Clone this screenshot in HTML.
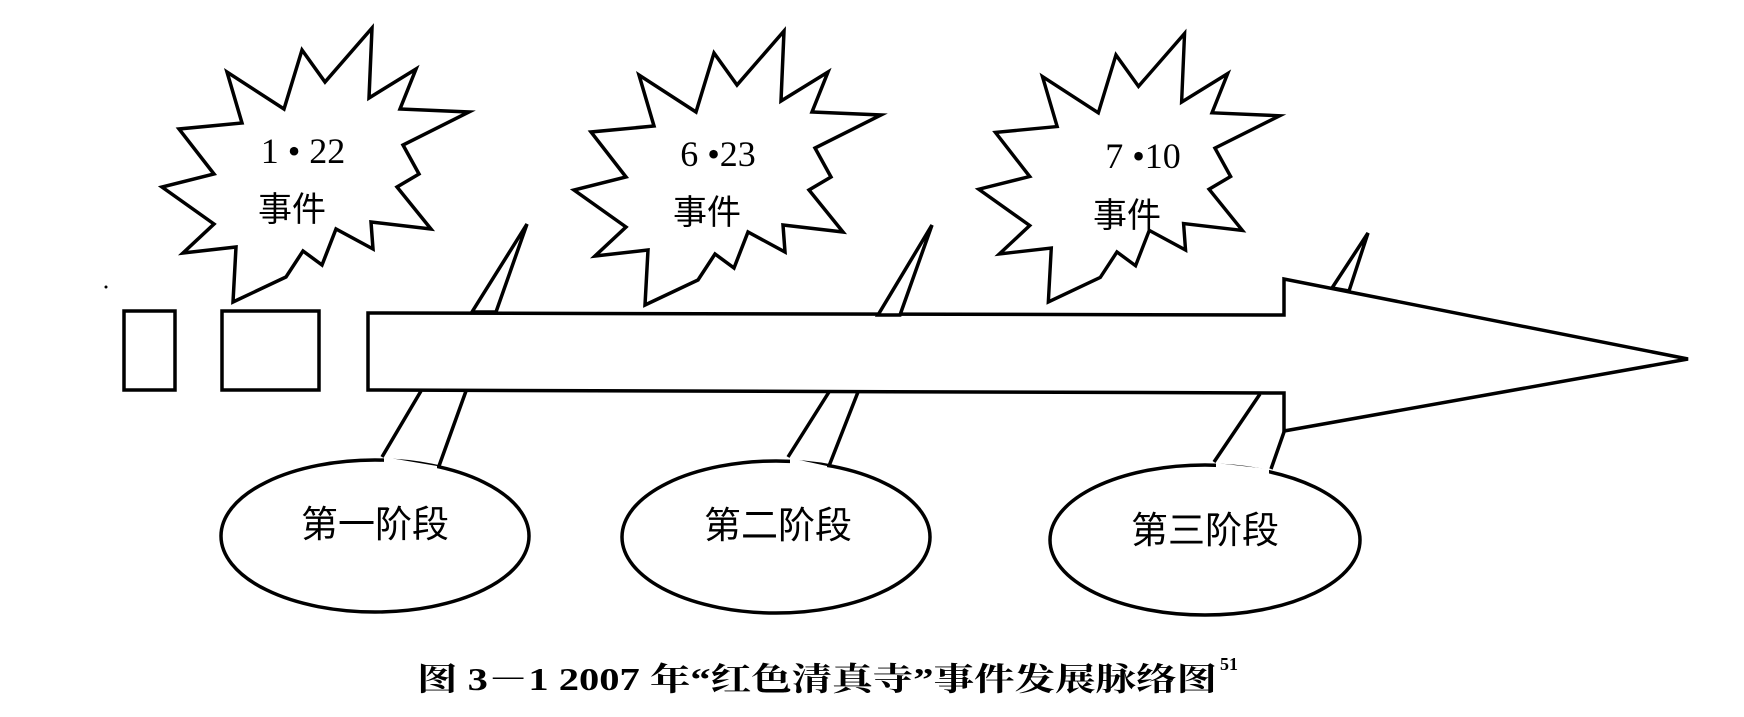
<!DOCTYPE html>
<html><head><meta charset="utf-8"><style>
html,body{margin:0;padding:0;background:#fff;}
svg{display:block;}
</style></head><body>
<svg width="1744" height="717" viewBox="0 0 1744 717" xmlns="http://www.w3.org/2000/svg">
<defs>
<polygon id="star" points="372,28 325,82 302,50 284,109 227,72 242,123 179,129 214,174 162,187 214,224 183,253 236,247 233,302 286,277 303,251 322,265 336,229 373,249 371,222 431,229 397,187 419,174 403,145 469,112 400,109 416,69 369,98" fill="#fff" stroke="#000" stroke-width="3.5" stroke-linejoin="miter"/>
</defs>
<g fill="none" stroke="#000" stroke-width="3.5">
<rect x="124" y="311" width="51" height="79" fill="#fff"/>
<rect x="222" y="311" width="97" height="79" fill="#fff"/>
<path d="M368,313 L1284,315 L1284,279 L1688,359 L1284,431 L1284,393 L368,390 Z" fill="#fff"/>
<!-- spikes -->
<polygon points="472,312 496,312 527,224" fill="#fff"/>
<polygon points="878,315 900,315 932,225" fill="#fff"/>
<polygon points="1332,288 1349,291 1368,233" fill="#fff"/>
<!-- callouts -->
<ellipse cx="375" cy="536" rx="154" ry="76" fill="#fff"/>
<path d="M421,391 L382,457 M466,391 L439,466"/>
<ellipse cx="776" cy="537" rx="154" ry="76" fill="#fff"/>
<path d="M829,392 L788,457 M858,392 L829,466"/>
<ellipse cx="1205" cy="540" rx="155" ry="75" fill="#fff"/>
<path d="M1260,394 L1214,462 M1284,432 L1271,469"/>
</g>
<!-- cover tail bases on ellipses -->
<g fill="#fff" stroke="none">
<polygon points="384,457 437,466 437,472 384,468"/>
<polygon points="790,458 827,466 827,472 790,469"/>
<polygon points="1216,463 1269,469 1269,475 1216,472"/>
</g>
<use href="#star"/>
<use href="#star" transform="translate(412,3)"/>
<use href="#star" transform="translate(820,6) scale(0.98)"/>
<circle cx="106" cy="287" r="1.5" fill="#000"/>
<g font-family="'Liberation Serif','Noto Serif CJK SC',serif" fill="#000" text-anchor="middle">
<text x="303" y="163" font-size="36">1 • 22</text>
<text x="292" y="221" font-size="34" font-family="'Liberation Sans','Noto Sans CJK SC',sans-serif">事件</text>
<text x="718" y="166" font-size="36">6 •23</text>
<text x="707" y="224" font-size="34" font-family="'Liberation Sans','Noto Sans CJK SC',sans-serif">事件</text>
<text x="1143" y="168" font-size="36">7 •10</text>
<text x="1127" y="227" font-size="34" font-family="'Liberation Sans','Noto Sans CJK SC',sans-serif">事件</text>
</g>
<g font-family="'Liberation Sans','Noto Sans CJK SC',sans-serif" fill="#000" text-anchor="middle" font-size="37">
<text x="375" y="537">第一阶段</text>
<text x="778" y="538">第二阶段</text>
<text x="1205" y="543">第三阶段</text>
</g>
<text x="417" y="690" font-size="32" font-weight="bold" font-family="'Liberation Serif','Noto Serif CJK SC',serif" textLength="800" lengthAdjust="spacingAndGlyphs">图 3－1 2007 年“红色清真寺”事件发展脉络图</text>
<text x="1220" y="670" font-size="18" font-weight="bold" font-family="'Liberation Serif',serif">51</text>
</svg>
</body></html>
